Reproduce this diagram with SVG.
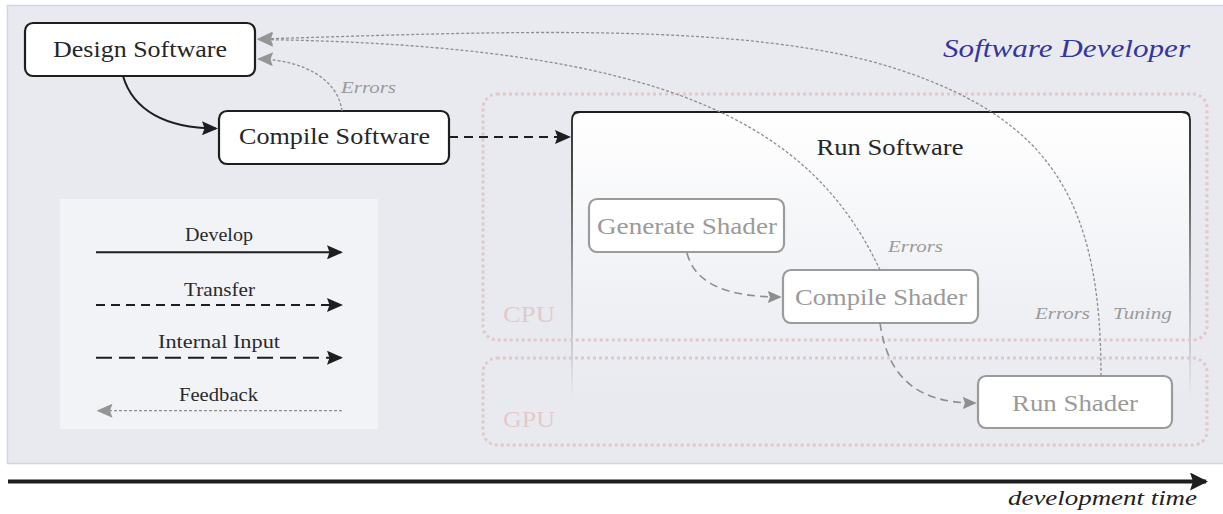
<svg xmlns="http://www.w3.org/2000/svg" width="1223" height="514" viewBox="0 0 1223 514">
  <style>
    .lbl { font-family: "Liberation Serif", "Times New Roman", "DejaVu Serif", serif; font-size: 23px; fill: #262626; text-anchor: middle; }
    .lbl-dim { fill: #9a9a9a; }
    .note { font-family: "Liberation Serif", "Times New Roman", "DejaVu Serif", serif; font-style: italic; font-size: 16.5px; fill: #9a9a9a; }
    .key { font-family: "Liberation Serif", "Times New Roman", "DejaVu Serif", serif; font-size: 19px; fill: #2a2a2a; text-anchor: middle; }
    .region-lbl { font-family: "Liberation Serif", "Times New Roman", "DejaVu Serif", serif; font-size: 23px; fill: #e2caca; }
    .box { fill: #fff; stroke: #1e1e1e; stroke-width: 2.2; }
    .box-dim { fill: #fff; stroke: #9b9b9b; stroke-width: 2.2; }
    .region { fill: none; stroke: #e3c8c8; stroke-width: 3; stroke-dasharray: 3 3; }
    .develop { fill: none; stroke: #1e1e1e; stroke-width: 2; }
    .transfer { fill: none; stroke: #1e1e1e; stroke-width: 2; stroke-dasharray: 9 6; }
    .internal { fill: none; stroke: #1e1e1e; stroke-width: 2; stroke-dasharray: 16 7; }
    .internal-dim { fill: none; stroke: #8e8e8e; stroke-width: 1.6; stroke-dasharray: 8 5; }
    .feedback { fill: none; stroke: #8e8e8e; stroke-width: 1.3; stroke-dasharray: 3 2; }
  </style>
  <defs>
    <marker id="headDark" viewBox="0 0 16 14" refX="14" refY="7" markerWidth="16" markerHeight="14" markerUnits="userSpaceOnUse" orient="auto">
      <path d="M0,0 L16,7 L0,14 L2.5,7 Z" fill="#1e1e1e"/>
    </marker>
    <marker id="headGrey" viewBox="0 0 16 14" refX="14" refY="7" markerWidth="16" markerHeight="14" markerUnits="userSpaceOnUse" orient="auto">
      <path d="M0,0 L16,7 L0,14 L2.5,7 Z" fill="#959595"/>
    </marker>
    <marker id="headShader" viewBox="0 0 16 14" refX="14" refY="7" markerWidth="14" markerHeight="12.5" markerUnits="userSpaceOnUse" orient="auto">
      <path d="M0,0 L16,7 L0,14 L2.5,7 Z" fill="#8e8e8e"/>
    </marker>
    <marker id="headTime" viewBox="0 0 18 18" refX="16" refY="9" markerWidth="18" markerHeight="18" markerUnits="userSpaceOnUse" orient="auto">
      <path d="M0,0 L18,9 L0,18 L3,9 Z" fill="#1e1e1e"/>
    </marker>
    <linearGradient id="runFill" x1="0" y1="112" x2="0" y2="398" gradientUnits="userSpaceOnUse">
      <stop offset="0" stop-color="#ffffff"/>
      <stop offset="0.45" stop-color="#f4f5f8"/>
      <stop offset="1" stop-color="#e9eaf0"/>
    </linearGradient>
    <linearGradient id="runEdge" x1="0" y1="112" x2="0" y2="398" gradientUnits="userSpaceOnUse">
      <stop offset="0" stop-color="#1e1e1e"/>
      <stop offset="0.2" stop-color="#3a3a3a"/>
      <stop offset="0.6" stop-color="#a0a0a4"/>
      <stop offset="1" stop-color="#e9eaf0"/>
    </linearGradient>
  </defs>

  <!-- developer area -->
  <rect id="panel" x="7.5" y="5.5" width="1218" height="458" fill="#e9eaf0" stroke="#cfd4e9" stroke-width="1.5"/>
  <text x="943" y="57" font-family="'Liberation Serif', 'Times New Roman', 'DejaVu Serif', serif" font-style="italic" font-size="26" fill="#3535a0" textLength="247" lengthAdjust="spacingAndGlyphs">Software Developer</text>

  <!-- legend -->
  <g id="legend">
    <rect x="60" y="199" width="318" height="230" fill="#f1f3f7"/>
    <text class="key" x="219" y="240.5" textLength="68" lengthAdjust="spacingAndGlyphs">Develop</text>
    <path class="develop" d="M96,252.3 H341" marker-end="url(#headDark)"/>
    <text class="key" x="219.5" y="296" textLength="71" lengthAdjust="spacingAndGlyphs">Transfer</text>
    <path class="transfer" d="M96,305 H341" marker-end="url(#headDark)"/>
    <text class="key" x="219" y="348" textLength="122" lengthAdjust="spacingAndGlyphs">Internal Input</text>
    <path class="internal" d="M96,357.7 H341" marker-end="url(#headDark)"/>
    <text class="key" x="218.5" y="400.5" textLength="79" lengthAdjust="spacingAndGlyphs">Feedback</text>
    <path class="feedback" d="M342,410.7 H98.5" marker-end="url(#headGrey)"/>
  </g>

  <!-- runtime container -->
  <g id="run-software">
    <path d="M572,398 V120 Q572,112 580,112 H1182 Q1190,112 1190,120 V398 Z" fill="url(#runFill)"/>
    <path d="M572,398 V120 Q572,112 580,112 H1182 Q1190,112 1190,120 V398" fill="none" stroke="url(#runEdge)" stroke-width="1.8"/>
    <path d="M574,113 Q576,112 580,112 H1182 Q1188,112 1189,115" fill="none" stroke="#1e1e1e" stroke-width="2.2"/>
    <text class="lbl" x="890" y="155" textLength="147" lengthAdjust="spacingAndGlyphs">Run Software</text>
  </g>

  <!-- hardware regions -->
  <g id="cpu">
    <rect class="region" x="483" y="94" width="724" height="246" rx="14"/>
    <text class="region-lbl" x="503" y="322" textLength="52" lengthAdjust="spacingAndGlyphs">CPU</text>
  </g>
  <g id="gpu">
    <rect class="region" x="483" y="358" width="724" height="87" rx="14"/>
    <text class="region-lbl" x="503" y="427" textLength="52" lengthAdjust="spacingAndGlyphs">GPU</text>
  </g>

  <!-- process steps -->
  <g id="design-software">
    <rect class="box" x="25" y="23" width="230" height="53" rx="8"/>
    <text class="lbl" x="140" y="57" textLength="174" lengthAdjust="spacingAndGlyphs">Design Software</text>
  </g>
  <g id="compile-software">
    <rect class="box" x="219" y="111" width="230" height="53" rx="8"/>
    <text class="lbl" x="334.5" y="144" textLength="191" lengthAdjust="spacingAndGlyphs">Compile Software</text>
  </g>
  <g id="generate-shader">
    <rect class="box-dim" x="589" y="199" width="195" height="53" rx="8"/>
    <text class="lbl lbl-dim" x="687" y="234" textLength="180" lengthAdjust="spacingAndGlyphs">Generate Shader</text>
  </g>
  <g id="compile-shader">
    <rect class="box-dim" x="783" y="270" width="195" height="53" rx="8"/>
    <text class="lbl lbl-dim" x="881" y="305" textLength="172" lengthAdjust="spacingAndGlyphs">Compile Shader</text>
  </g>
  <g id="run-shader">
    <rect class="box-dim" x="978" y="376" width="194" height="52" rx="8"/>
    <text class="lbl lbl-dim" x="1075" y="411" textLength="126" lengthAdjust="spacingAndGlyphs">Run Shader</text>
  </g>

  <!-- connectors -->
  <g id="connectors">
    <path class="develop" d="M123,76 C133,110 165,128 216,128.5" marker-end="url(#headDark)"/>
    <path class="transfer" d="M449,137 H569" marker-end="url(#headDark)"/>
    <path class="internal-dim" d="M687,253 C695,285 730,297 780,297" marker-end="url(#headShader)"/>
    <path class="internal-dim" d="M880,323 C888,380 920,403 975,403" marker-end="url(#headShader)"/>
    <path class="feedback" d="M342,111 C338,80 305,60 259,59" marker-end="url(#headGrey)"/>
    <path class="feedback" d="M880,270 C810,120 660,45 259,39.5" marker-end="url(#headGrey)"/>
    <path class="feedback" d="M1101,376 C1101,200 1050,120 900,70 C750,20 500,32 259,39" marker-end="url(#headGrey)"/>
  </g>

  <!-- connector labels -->
  <g id="connector-labels">
    <text class="note" x="341" y="92.5" textLength="55" lengthAdjust="spacingAndGlyphs">Errors</text>
    <text class="note" x="888" y="251.5" textLength="55" lengthAdjust="spacingAndGlyphs">Errors</text>
    <text class="note" x="1035" y="319" textLength="55" lengthAdjust="spacingAndGlyphs">Errors</text>
    <text class="note" x="1113" y="319" textLength="59" lengthAdjust="spacingAndGlyphs">Tuning</text>
  </g>

  <!-- time axis -->
  <g id="time-axis">
    <path d="M8,481.5 H1206" stroke="#1e1e1e" stroke-width="4" fill="none" marker-end="url(#headTime)"/>
    <text x="1008" y="505" font-family="'Liberation Serif', 'Times New Roman', 'DejaVu Serif', serif" font-style="italic" font-size="21" fill="#222" textLength="189" lengthAdjust="spacingAndGlyphs">development time</text>
  </g>
</svg>
